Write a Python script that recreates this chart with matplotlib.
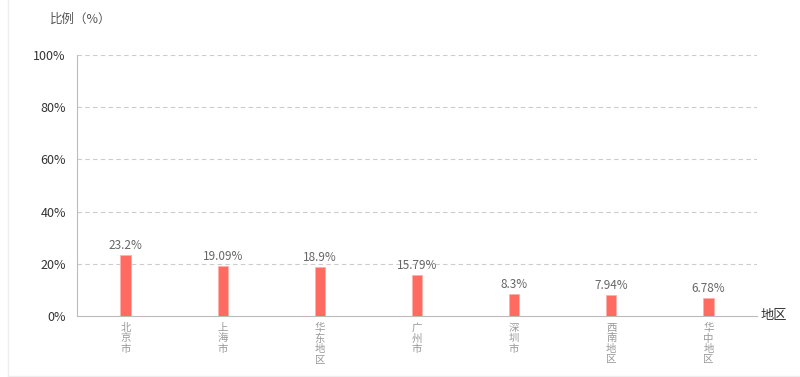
import matplotlib.pyplot as plt
from matplotlib.lines import Line2D

plt.rcParams['font.family'] = ['Noto Sans CJK SC', 'DejaVu Sans']

regions = ["北京市", "上海市", "华东地区", "广州市", "深圳市", "西南地区", "华中地区"]
shares = [23.2, 19.09, 18.9, 15.79, 8.3, 7.94, 6.78]
share_labels = ["23.2%", "19.09%", "18.9%", "15.79%", "8.3%", "7.94%", "6.78%"]
y_ticks = [0, 20, 40, 60, 80, 100]

fig = plt.figure(figsize=(8, 3.77), dpi=100)
ax = fig.add_axes([77 / 800, 1 - 316 / 377, 680 / 800, 261 / 377])

x = range(len(regions))
ax.bar(x, shares, width=0.105, color="#ff6b61", edgecolor="#ffb0aa", linewidth=0.6, zorder=3)
for i, v in enumerate(shares):
    ax.text(i, v + 1.2, share_labels[i], ha="center", va="bottom", fontsize=8.5, color="#666666", zorder=4)

ax.set_xlim(-0.5, len(regions) - 0.5)
ax.set_ylim(0, 100)
ax.set_yticks(y_ticks)
ax.set_yticklabels([f"{t}%" for t in y_ticks], fontsize=9, color="#333333")
ax.set_xticks(list(x))
ax.set_xticklabels(["\n".join(r) for r in regions], fontsize=7.5, color="#999999", linespacing=1.05, va="top")
ax.tick_params(axis="both", length=0, pad=5)
ax.tick_params(axis="y", pad=8)

for t in y_ticks[1:]:
    ax.axhline(t, color="#cccccc", linestyle=(0, (4, 3)), linewidth=0.8, zorder=1)

for side in ["top", "right"]:
    ax.spines[side].set_visible(False)
ax.spines["left"].set_color("#bbbbbb")
ax.spines["bottom"].set_color("#bbbbbb")

fig.text(50 / 800, 1 - 19 / 377, "比例（%）", fontsize=9, color="#555555", ha="left", va="center")
fig.text(761 / 800, 1 - 316 / 377, "地区", fontsize=9.5, color="#333333", ha="left", va="center")

# faint outer frame on left and bottom
fig.add_artist(Line2D([7.5 / 800, 7.5 / 800], [1 / 377, 1], color="#eeeeee", linewidth=1))
fig.add_artist(Line2D([7.5 / 800, 1], [1.5 / 377, 1.5 / 377], color="#eeeeee", linewidth=1))

fig.savefig("out.png", dpi=100)
